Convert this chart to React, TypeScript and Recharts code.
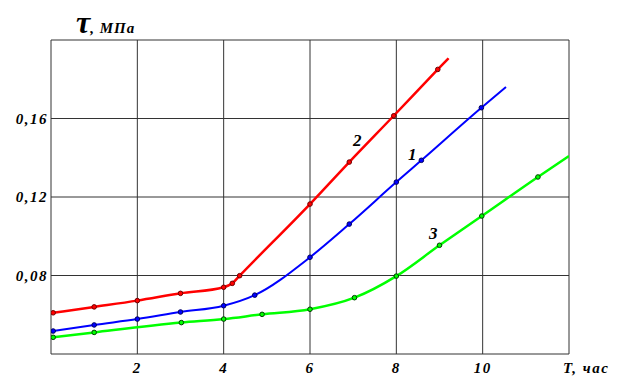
import React from 'react'
import { LineChart, Line, XAxis, YAxis, CartesianGrid } from 'recharts'

// curve 2 (red)
const redX = [0.05, 1, 2, 3, 4, 4.2, 4.37, 6, 6.91, 7.94, 8.96, 9.21]
const redY = [0.061, 0.064, 0.0672, 0.0709, 0.074, 0.076, 0.0799, 0.1164, 0.1378, 0.1614, 0.185, 0.1907]
// curve 1 (blue)
const blueX = [0.05, 1, 2, 3, 4, 4.72, 6, 6.91, 8, 8.58, 9.97, 10.54]
const blueY = [0.0517, 0.0548, 0.0578, 0.0614, 0.0646, 0.07, 0.0893, 0.1062, 0.1276, 0.1387, 0.1655, 0.176]
// curve 3 (green)
const greenX = [0.05, 1, 3.02, 4, 4.89, 6, 7.03, 8, 9, 9.98, 11.28, 12]
const greenY = [0.0485, 0.051, 0.056, 0.0578, 0.0602, 0.0628, 0.0687, 0.0797, 0.0954, 0.1103, 0.1302, 0.1409]

const xTicks = [0, 2, 4, 6, 8, 10, 12]
const yTicks = [0.04, 0.08, 0.12, 0.16, 0.2]
const yLabels = ['', '0,08', '0,12', '0,16', '']

const toData = (xs: number[], ys: number[]) => xs.map((x, i) => ({ x, y: ys[i] }))

const FONT = 'Liberation Serif, Times New Roman, DejaVu Serif, serif'

const makeDot = (fill: string, stroke: string, count: number) => (props: any) => {
  const { cx, cy, index } = props
  // the last point only ends the line, no marker there
  if (index === count - 1) return <g key={`d-${index}`} />
  return <circle key={`d-${index}`} cx={cx} cy={cy} r={2.3} fill={fill} stroke={stroke} strokeWidth={1} />
}

const XTick = (props: any) => {
  const { x, payload } = props
  const v = payload.value
  if (v === 0) return <g />
  const txt = v === 12 ? 'T, час' : String(v)
  return (
    <text
      x={v === 12 ? x - 6 : x}
      y={373}
      textAnchor={v === 12 ? 'start' : 'middle'}
      style={{ fontFamily: FONT, fontStyle: 'italic', fontWeight: 'bold', fontSize: 15, letterSpacing: 1.5 }}
      fill="#000"
    >
      {txt}
    </text>
  )
}

const YTick = (props: any) => {
  const { y, payload } = props
  const label = yLabels[yTicks.indexOf(payload.value)] || ''
  if (!label) return <g />
  return (
    <text
      x={48}
      y={y + 5}
      textAnchor="end"
      style={{ fontFamily: FONT, fontStyle: 'italic', fontWeight: 'bold', fontSize: 15, letterSpacing: 1.5 }}
      fill="#000"
    >
      {label}
    </text>
  )
}

const curveLabel = (text: string, left: number, top: number) => (
  <div
    style={{
      position: 'absolute',
      left,
      top,
      fontFamily: FONT,
      fontStyle: 'italic',
      fontWeight: 'bold',
      fontSize: 17,
      lineHeight: '16px'
    }}
  >
    {text}
  </div>
)

export default function App() {
  return (
    <div style={{ position: 'absolute', left: 0, top: 0, width: 621, height: 376, background: '#fff' }}>
      <LineChart width={621} height={376} margin={{ top: 40, right: 52, left: 0, bottom: 0 }}>
        <CartesianGrid stroke="#333" strokeWidth={1} />
        <XAxis
          dataKey="x"
          type="number"
          domain={[0, 12]}
          ticks={xTicks}
          height={22}
          axisLine={false}
          tickLine={false}
          tick={<XTick />}
          allowDataOverflow
        />
        <YAxis
          type="number"
          domain={[0.04, 0.2]}
          ticks={yTicks}
          width={51}
          axisLine={false}
          tickLine={false}
          tick={<YTick />}
          allowDataOverflow
        />
        <Line
          data={toData(redX, redY)}
          dataKey="y"
          type="monotone"
          stroke="#ff0000"
          strokeWidth={2.5}
          dot={makeDot('#ff0000', '#700000', redX.length)}
          isAnimationActive={false}
        />
        <Line
          data={toData(blueX, blueY)}
          dataKey="y"
          type="monotone"
          stroke="#0000ff"
          strokeWidth={2}
          dot={makeDot('#0000ff', '#000060', blueX.length)}
          isAnimationActive={false}
        />
        <Line
          data={toData(greenX, greenY)}
          dataKey="y"
          type="monotone"
          stroke="#00ff00"
          strokeWidth={2.5}
          dot={makeDot('#00ff00', '#004000', greenX.length)}
          isAnimationActive={false}
        />
      </LineChart>
      <div
        style={{
          position: 'absolute',
          left: 76,
          top: 4,
          fontFamily: FONT,
          fontStyle: 'italic',
          fontWeight: 'bold',
          whiteSpace: 'nowrap'
        }}
      >
        <span style={{ fontSize: 32 }}>τ</span>
        <span style={{ fontSize: 15, letterSpacing: 1 }}>, МПа</span>
      </div>
      {curveLabel('2', 353, 133)}
      {curveLabel('1', 408, 147)}
      {curveLabel('3', 429, 226)}
    </div>
  )
}
